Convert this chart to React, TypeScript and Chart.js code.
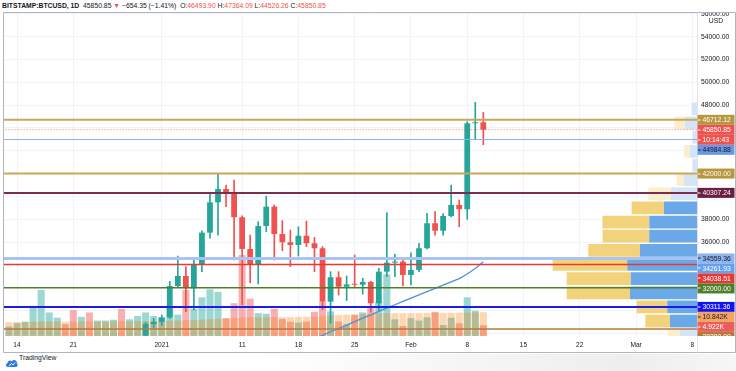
import React, { useEffect, useRef } from 'react';
import { Chart, registerables } from 'chart.js';

Chart.register(...registerables);

// ---------------- DATA ----------------
const symbolTitle = 'BITSTAMP:BTCUSD, 1D';
const changeText = '−654.35 (−1.41%)';
const countdownText = '10:14:43';
const originDate = '2020-12-14';

const tickDates = ['2020-12-14', '2020-12-21', '2021-01-01', '2021-01-11', '2021-01-18', '2021-01-25', '2021-02-01', '2021-02-08', '2021-02-15', '2021-02-22', '2021-03-01', '2021-03-08'];
const tickLabels = ['14', '21', '2021', '11', '18', '25', 'Feb', '8', '15', '22', 'Mar', '8'];

const priceTicks = [28000, 30000, 32000, 34000, 36000, 38000, 40000, 42000, 44000, 46000, 48000, 50000, 52000, 54000, 56000];

const candleDates = ['2020-12-30', '2020-12-31', '2021-01-01', '2021-01-02', '2021-01-03', '2021-01-04', '2021-01-05', '2021-01-06', '2021-01-07', '2021-01-08', '2021-01-09', '2021-01-10', '2021-01-11', '2021-01-12', '2021-01-13', '2021-01-14', '2021-01-15', '2021-01-16', '2021-01-17', '2021-01-18', '2021-01-19', '2021-01-20', '2021-01-21', '2021-01-22', '2021-01-23', '2021-01-24', '2021-01-25', '2021-01-26', '2021-01-27', '2021-01-28', '2021-01-29', '2021-01-30', '2021-01-31', '2021-02-01', '2021-02-02', '2021-02-03', '2021-02-04', '2021-02-05', '2021-02-06', '2021-02-07', '2021-02-08', '2021-02-09', '2021-02-10'];
const opens = [27790, 28810, 29000, 29380, 32140, 33020, 31940, 33990, 36820, 39480, 40650, 40270, 38170, 35390, 33990, 37400, 39100, 36700, 35980, 35740, 36550, 35890, 35450, 30770, 32910, 32080, 32280, 32250, 32500, 30630, 33400, 34190, 34280, 33110, 33550, 35450, 37640, 36990, 38280, 39250, 38870, 46410, 46493.90];
const highs = [28950, 29300, 29600, 32550, 34770, 33840, 34480, 36990, 40320, 41960, 41000, 41440, 38300, 36600, 37780, 40030, 39250, 37870, 37050, 37340, 37840, 36400, 35600, 33400, 33400, 33020, 34860, 32820, 32560, 33690, 38570, 34920, 34480, 35060, 35890, 38520, 38660, 38500, 41000, 39680, 46550, 48250, 47364.09];
const lows = [27400, 28500, 28700, 29300, 32080, 29900, 30040, 33400, 36330, 36610, 39100, 34420, 30500, 32430, 32320, 36900, 34420, 35240, 33840, 34770, 35590, 33400, 30070, 28870, 31350, 30860, 32080, 31440, 29850, 30000, 32960, 32960, 32140, 32230, 33400, 35400, 36610, 36610, 38200, 37340, 37990, 45030, 44526.26];
const closes = [28810, 29000, 29380, 32140, 33020, 31940, 33990, 36820, 39480, 40650, 40270, 38170, 35390, 33990, 37400, 39100, 36700, 35980, 35740, 36550, 35890, 35450, 30770, 32910, 32080, 32280, 32250, 32500, 30630, 33400, 34190, 34280, 33110, 33550, 35450, 37640, 36990, 38280, 39250, 38870, 46410, 46490, 45850.85];

const volumeDates = ['2020-12-13', '2020-12-14', '2020-12-15', '2020-12-16', '2020-12-17', '2020-12-18', '2020-12-19', '2020-12-20', '2020-12-21', '2020-12-22', '2020-12-23', '2020-12-24', '2020-12-25', '2020-12-26', '2020-12-27', '2020-12-28', '2020-12-29', '2020-12-30', '2020-12-31', '2021-01-01', '2021-01-02', '2021-01-03', '2021-01-04', '2021-01-05', '2021-01-06', '2021-01-07', '2021-01-08', '2021-01-09', '2021-01-10', '2021-01-11', '2021-01-12', '2021-01-13', '2021-01-14', '2021-01-15', '2021-01-16', '2021-01-17', '2021-01-18', '2021-01-19', '2021-01-20', '2021-01-21', '2021-01-22', '2021-01-23', '2021-01-24', '2021-01-25', '2021-01-26', '2021-01-27', '2021-01-28', '2021-01-29', '2021-01-30', '2021-01-31', '2021-02-01', '2021-02-02', '2021-02-03', '2021-02-04', '2021-02-05', '2021-02-06', '2021-02-07', '2021-02-08', '2021-02-09', '2021-02-10'];
const volumes = [4.3, 5.8, 6.5, 13.7, 20.9, 10.7, 8.3, 5.4, 11.8, 8.7, 10.7, 7.0, 7.0, 7.4, 12.3, 7.6, 9.1, 10.7, 9.1, 8.5, 12.7, 9.7, 20.9, 12.4, 17.6, 21.2, 20.1, 8.1, 14.9, 36.8, 17.0, 10.4, 10.1, 12.4, 7.7, 6.5, 6.1, 6.5, 11.0, 15.4, 11.2, 6.6, 5.4, 9.5, 10.7, 13.5, 15.8, 28.1, 7.6, 4.5, 8.1, 7.0, 8.5, 11.0, 5.0, 8.3, 5.8, 17.6, 11.5, 4.922];
const volumeUp = [1, 1, 1, 1, 1, 1, 1, 0, 0, 1, 0, 1, 1, 1, 0, 1, 1, 1, 1, 1, 1, 1, 0, 1, 1, 1, 1, 0, 0, 0, 0, 1, 1, 0, 0, 0, 1, 0, 0, 0, 1, 0, 1, 0, 1, 0, 1, 1, 1, 0, 1, 1, 1, 0, 1, 1, 0, 1, 1, 0];
const volumeMA = [6.3, 6.4, 6.4, 6.5, 6.6, 6.6, 6.6, 6.5, 6.5, 6.6, 6.6, 6.5, 6.5, 6.6, 6.6, 6.6, 6.7, 6.7, 6.8, 6.9, 7.0, 7.1, 7.2, 7.3, 7.4, 7.6, 7.8, 8.0, 8.1, 8.4, 8.5, 8.5, 8.6, 8.6, 8.6, 8.6, 8.7, 8.7, 8.8, 9.0, 9.3, 9.5, 9.7, 9.9, 10.1, 10.2, 10.3, 10.4, 10.4, 10.4, 10.4, 10.4, 10.5, 10.5, 10.5, 10.5, 10.6, 10.7, 10.8, 10.842];

const maDates = ['2021-01-19', '2021-01-20', '2021-01-21', '2021-01-22', '2021-01-23', '2021-01-24', '2021-01-25', '2021-01-26', '2021-01-27', '2021-01-28', '2021-01-29', '2021-01-30', '2021-01-31', '2021-02-01', '2021-02-02', '2021-02-03', '2021-02-04', '2021-02-05', '2021-02-06', '2021-02-07', '2021-02-08', '2021-02-09', '2021-02-10'];
const maValues = [27180, 27510, 27810, 28130, 28410, 28720, 29020, 29330, 29610, 29920, 30220, 30500, 30790, 31080, 31360, 31650, 31940, 32220, 32510, 32790, 33200, 33680, 34261.93];

const levelPrices = [46712.12, 44984.88, 42000, 40307.24, 34559.36, 34038.51, 32000, 30311.36, 28380];

const profilePrices = [27830, 29070, 30310, 31550, 32790, 34030, 35270, 36510, 37750, 38990, 40230, 41470, 42710, 43950, 45190, 46430, 47670];
const profileUp = [11.8, 18.7, 20.6, 46.4, 45.9, 48.3, 39.5, 33.1, 33.0, 22.9, 18.0, 9.0, 3.0, 4.9, 2.8, 8.3, 3.7];
const profileDown = [8.5, 17.1, 21.2, 43.9, 44.4, 51.7, 35.8, 32.3, 32.5, 22.4, 15.7, 5.1, 0, 4.2, 0, 7.4, 0];
const profileInValueArea = [0, 1, 1, 1, 1, 1, 1, 1, 1, 1, 0, 0, 0, 0, 0, 0, 0];

// ---------------- STYLES ----------------
const FONT = '"Liberation Sans", Arial, sans-serif';
const UP = '#26a69a';
const DOWN = '#ef5350';
const levelStyles = [
  { line: '#c9a65a', width: 2, bg: '#b8963e', fg: '#ffffff' },
  { line: '#8fb0ea', width: 1, bg: '#6b97e6', fg: '#131722' },
  { line: '#c9a65a', width: 2, bg: '#b8963e', fg: '#ffffff' },
  { line: '#7b2d4d', width: 2, bg: '#6b1f3e', fg: '#ffffff' },
  { line: '#a9c4f2', width: 3, bg: '#8fb4f0', fg: '#131722' },
  { line: '#e53935', width: 1.5, bg: '#e53935', fg: '#ffffff' },
  { line: '#4f7f2b', width: 1.5, bg: '#4f7f2b', fg: '#ffffff' },
  { line: '#1c1ce6', width: 2, bg: '#1212f0', fg: '#ffffff' },
  { line: '#b8793a', width: 1.5, bg: '#b8793a', fg: '#ffffff' },
];

const dayOf = (s: string) => Math.round((Date.parse(s) - Date.parse(originDate)) / 86400000);

const lastClose = closes[closes.length - 1];
const lastMA = maValues[maValues.length - 1];
const tagPrices = [...levelPrices, lastClose, lastMA];

const tagPlugin = {
  id: 'tvTags',
  afterDraw(chart: any) {
    const { ctx, chartArea, scales } = chart;
    const ys = scales.y;
    const yv = scales.yVol;
    ctx.save();
    // frame
    ctx.strokeStyle = '#b2b5be';
    ctx.lineWidth = 1;
    ctx.beginPath();
    ctx.moveTo(3.5, 12.5); ctx.lineTo(735.5, 12.5);
    ctx.moveTo(3.5, 12.5); ctx.lineTo(3.5, 352.5);
    ctx.moveTo(3.5, 352.5); ctx.lineTo(735.5, 352.5);
    ctx.moveTo(735.5, 12.5); ctx.lineTo(735.5, 352.5);
    ctx.stroke();
    ctx.strokeStyle = '#e0e3eb';
    ctx.beginPath();
    ctx.moveTo(chartArea.right + 0.5, 12.5); ctx.lineTo(chartArea.right + 0.5, 352.5);
    ctx.stroke();
    // USD
    ctx.fillStyle = '#131722';
    ctx.font = `6.8px ${FONT}`;
    ctx.textAlign = 'center';
    ctx.textBaseline = 'middle';
    ctx.fillText('USD', chartArea.right + 19, 21.5);

    type Tag = { y: number; text: string; bg: string; fg: string };
    const tags: Tag[] = [];
    levelPrices.forEach((p, i) => tags.push({ y: ys.getPixelForValue(p), text: p.toFixed(2), bg: levelStyles[i].bg, fg: levelStyles[i].fg }));
    const py = ys.getPixelForValue(lastClose);
    tags.push({ y: py, text: lastClose.toFixed(2), bg: '#ef5350', fg: '#ffffff' });
    tags.push({ y: py + 0.01, text: countdownText, bg: '#ef5350', fg: '#ffffff' });
    tags.push({ y: ys.getPixelForValue(lastMA), text: lastMA.toFixed(2), bg: '#64a0ee', fg: '#ffffff' });
    const vma = volumeMA[volumeMA.length - 1];
    const vl = volumes[volumes.length - 1];
    tags.push({ y: yv.getPixelForValue(vma), text: vma.toFixed(3) + 'K', bg: '#f4a462', fg: '#131722' });
    tags.push({ y: yv.getPixelForValue(vl), text: vl.toFixed(3) + 'K', bg: '#e9605a', fg: '#ffffff' });
    tags.sort((a, b) => a.y - b.y);
    const h = 10;
    let prevBottom = -1e9;
    ctx.beginPath();
    ctx.rect(chartArea.right, chartArea.top, 40, chartArea.bottom - chartArea.top);
    ctx.clip();
    ctx.textAlign = 'left';
    for (const t of tags) {
      const cy = Math.max(t.y, prevBottom + h / 2);
      prevBottom = cy + h / 2;
      const x0 = chartArea.right + 0.5;
      ctx.fillStyle = t.bg;
      ctx.fillRect(x0, cy - h / 2, 37, h);
      ctx.fillStyle = t.fg;
      ctx.fillRect(x0 + 0.5, Math.round(cy) - 0.5, 2.5, 1);
      ctx.fillText(t.text, x0 + 5, cy + 0.5);
    }
    ctx.restore();
  },
};

export default function App() {
  const ref = useRef<HTMLCanvasElement | null>(null);

  useEffect(() => {
    const canvas = ref.current;
    if (!canvas) return;

    const datasets: any[] = [];
    datasets.push({
      type: 'bar', label: 'Volume', xAxisID: 'x', yAxisID: 'yVol', order: 10,
      data: volumeDates.map((d, i) => ({ x: dayOf(d), y: volumes[i] })),
      backgroundColor: volumeUp.map((u) => (u ? 'rgba(38,166,154,0.45)' : 'rgba(239,83,80,0.45)')),
      grouped: false, categoryPercentage: 1, barPercentage: 0.88,
    });
    datasets.push({
      type: 'bar', label: 'Volume MA', xAxisID: 'x', yAxisID: 'yVol', order: 9,
      data: volumeDates.map((d, i) => ({ x: dayOf(d), y: volumeMA[i] })),
      backgroundColor: 'rgba(245,124,0,0.3)',
      grouped: false, categoryPercentage: 1, barPercentage: 0.88,
    });
    datasets.push({
      type: 'bar', label: 'Profile up', indexAxis: 'y', xAxisID: 'xp', yAxisID: 'yp', order: 8,
      data: profilePrices.map((p, i) => ({ x: [0, profileUp[i]], y: p })),
      backgroundColor: profileInValueArea.map((v) => (v ? '#6aa8e8' : '#d3e5f7')),
      grouped: false, categoryPercentage: 1, barPercentage: 0.9,
    });
    datasets.push({
      type: 'bar', label: 'Profile down', indexAxis: 'y', xAxisID: 'xp', yAxisID: 'yp', order: 8,
      data: profilePrices.map((p, i) => ({ x: [profileUp[i], profileUp[i] + profileDown[i]], y: p })),
      backgroundColor: profileInValueArea.map((v) => (v ? '#f3d27c' : '#fbeecd')),
      grouped: false, categoryPercentage: 1, barPercentage: 0.9,
    });
    datasets.push({
      type: 'line', label: 'MA', xAxisID: 'x', yAxisID: 'y', order: 7,
      data: maDates.map((d, i) => ({ x: dayOf(d), y: maValues[i] })),
      borderColor: '#4a90e2', borderWidth: 1.3, pointRadius: 0, tension: 0, clip: 0,
    });
    const candleColors = candleDates.map((_, i) => (closes[i] >= opens[i] ? UP : DOWN));
    datasets.push({
      type: 'bar', label: 'Wicks', xAxisID: 'x', yAxisID: 'y', order: 6,
      data: candleDates.map((d, i) => ({ x: dayOf(d), y: [lows[i], highs[i]] })),
      backgroundColor: candleColors, grouped: false, categoryPercentage: 1, barPercentage: 1, maxBarThickness: 1,
    });
    datasets.push({
      type: 'bar', label: 'Bodies', xAxisID: 'x', yAxisID: 'y', order: 5,
      data: candleDates.map((d, i) => ({ x: dayOf(d), y: [opens[i], closes[i]] })),
      backgroundColor: candleColors, grouped: false, categoryPercentage: 1, barPercentage: 0.72, minBarLength: 1,
    });
    levelPrices.forEach((p, i) => {
      datasets.push({
        type: 'line', label: 'Level ' + p, xAxisID: 'x', yAxisID: 'y', order: 4,
        data: [{ x: -10, y: p }, { x: 100, y: p }],
        borderColor: levelStyles[i].line, borderWidth: levelStyles[i].width, pointRadius: 0, clip: 0,
      });
    });
    datasets.push({
      type: 'line', label: 'Last price', xAxisID: 'x', yAxisID: 'y', order: 3,
      data: [{ x: -10, y: lastClose }, { x: 100, y: lastClose }],
      borderColor: 'rgba(239,83,80,0.8)', borderWidth: 1, borderDash: [1, 2], pointRadius: 0, clip: 0,
    });

    const yMin = 27759;
    const yMax = 56078;

    const chart = new Chart(canvas, {
      type: 'bar',
      data: { datasets },
      options: {
        animation: false,
        responsive: false,
        devicePixelRatio: 1,
        events: [],
        layout: { padding: { left: 4, top: 13, right: 0, bottom: 0 } },
        plugins: { legend: { display: false }, tooltip: { enabled: false } },
        scales: {
          x: {
            type: 'linear', position: 'bottom', min: -1.62, max: 84.58, offset: false,
            grid: { color: '#f0f3fa', offset: false, drawTicks: false },
            border: { display: false },
            ticks: {
              padding: 5, color: '#131722', font: { size: 6.6, family: FONT }, maxRotation: 0, autoSkip: false,
              callback: (_v: any, idx: number) => tickLabels[idx],
            },
            afterBuildTicks: (s: any) => { s.ticks = tickDates.map((d) => ({ value: dayOf(d) })); },
            afterFit: (s: any) => { s.height = 35; },
          },
          y: {
            type: 'linear', position: 'right', min: yMin, max: yMax,
            grid: { color: '#f0f3fa', drawTicks: false },
            border: { display: false },
            ticks: {
              padding: 4, color: '#131722', font: { size: 6.8, family: FONT },
              callback: (v: any) => (tagPrices.some((t) => Math.abs(t - v) < 1000) ? '' : Number(v).toFixed(2)),
            },
            afterBuildTicks: (s: any) => { s.ticks = priceTicks.map((v) => ({ value: v })); },
            afterFit: (s: any) => { s.width = 39; },
          },
          yVol: { type: 'linear', axis: 'y', display: false, min: 0, max: 146.8, offset: false },
          xp: { type: 'linear', axis: 'x', display: false, min: 0, max: 480, reverse: true, offset: false, grid: { offset: false } },
          yp: {
            type: 'linear', axis: 'y', display: false, min: yMin, max: yMax, offset: false, grid: { offset: false },
            afterBuildTicks: (s: any) => { s.ticks = profilePrices.map((v) => ({ value: v })); },
          },
        },
      } as any,
      plugins: [tagPlugin],
    });
    return () => chart.destroy();
  }, []);

  const red = { color: '#ef5350' };
  return (
    <div style={{ position: 'fixed', left: 0, top: 0, width: 736, height: 371, background: '#ffffff', overflow: 'hidden' }}>
      <canvas ref={ref} width={736} height={371} style={{ position: 'absolute', left: 0, top: 0, width: 736, height: 371, display: 'block' }} />
      <div style={{ position: 'absolute', left: 0, top: 0, width: 736, height: 12, background: '#ffffff', font: `6.8px ${FONT}`, lineHeight: '12px', color: '#131722', paddingLeft: 2, whiteSpace: 'nowrap', boxSizing: 'border-box' }}>
        <b>{symbolTitle}</b>&nbsp; {lastClose.toFixed(2)} <span style={red}>▼</span> {changeText}&nbsp; O:<span style={red}>{opens[opens.length - 1].toFixed(2)}</span> H:<span style={red}>{highs[highs.length - 1].toFixed(2)}</span> L:<span style={red}>{lows[lows.length - 1].toFixed(2)}</span> C:<span style={red}>{lastClose.toFixed(2)}</span>
      </div>
      <div style={{ position: 'absolute', left: 0, top: 354, width: 736, height: 17, background: 'linear-gradient(to right, #ffffff 0%, #ffffff 35%, #eeeeee 85%, #f6f6f6 100%)' }}>
        <svg width="13" height="10" viewBox="0 0 13 10" style={{ position: 'absolute', left: 5, top: 4 }}>
          <path d="M3 9 C0.5 9 0.2 5.8 2.4 5.2 C2.6 2.6 5.6 1.6 7 3.4 C8.4 1 12.4 2 11.8 5.2 C13.4 6 12.8 9 10.8 9 Z" fill="#2e7be3" />
          <path d="M4.2 8.2 L6.4 5.4 L8 7 L10 4.6" stroke="#ffffff" strokeWidth="0.9" fill="none" />
        </svg>
        <span style={{ position: 'absolute', left: 19, top: 0, lineHeight: '17px', font: `6.8px ${FONT}`, color: '#131722' }}>TradingView</span>
      </div>
    </div>
  );
}
